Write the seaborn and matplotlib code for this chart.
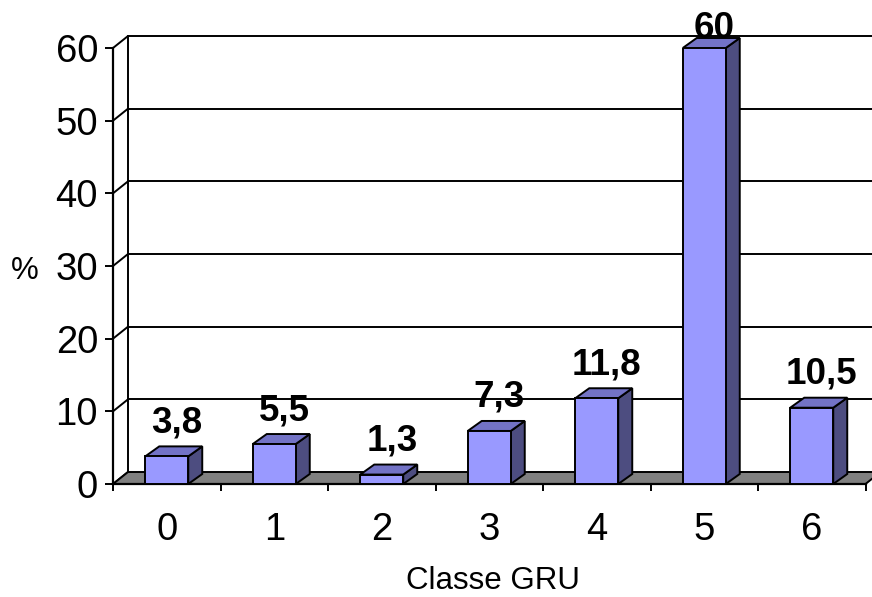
import numpy as np
import pandas as pd
import matplotlib
matplotlib.use("Agg")
import matplotlib.pyplot as plt
import seaborn as sns
from matplotlib.patches import Polygon
from matplotlib.lines import Line2D
from matplotlib.transforms import IdentityTransform

# Data
classes = ["0", "1", "2", "3", "4", "5", "6"]
shares = [3.8, 5.5, 1.3, 7.3, 11.8, 60, 10.5]
y_ticks = [0, 10, 20, 30, 40, 50, 60]

# Colours of the pseudo-3D columns
FACE = "#9999FF"
TOP = "#7373C6"
SIDE = "#4D4D80"
FLOOR = "#808080"

W, H, DPI = 872, 597, 100
WALL = np.array([15.0, 12.0])   # depth of floor / back wall, pixels
BAR = np.array([14.0, 10.0])    # depth of each column, pixels
LW = 1.4

sns.set_theme(style="white")
plt.rcParams["font.family"] = ["Liberation Sans", "DejaVu Sans"]
plt.rcParams["text.color"] = "black"
plt.rcParams["axes.labelcolor"] = "black"

fig = plt.figure(figsize=(W / DPI, H / DPI), dpi=DPI)
fig.patch.set_facecolor("white")
ax = fig.add_axes([113 / W, (H - 484) / H, 752.5 / W, 436 / H])
ax.set_facecolor("none")

df = pd.DataFrame({"classe": classes, "pct": shares})
sns.barplot(data=df, x="classe", y="pct", color=FACE, saturation=1,
            width=0.4, edgecolor="black", linewidth=LW, zorder=4, ax=ax)
bars = list(ax.patches)

ax.set_xlim(-0.5, len(classes) - 0.5)
ax.set_ylim(0, 60)
ax.autoscale(False)
x0, x1 = ax.get_xlim()


def px(x, y, depth=(0.0, 0.0)):
    """Data point -> display pixels, pushed back by a depth offset."""
    return ax.transData.transform((x, y)) + np.asarray(depth)


def seg(p, q, z=0.5):
    ln = Line2D([p[0], q[0]], [p[1], q[1]], color="black", lw=LW,
                transform=IdentityTransform(), clip_on=False, zorder=z)
    ax.add_line(ln)


def poly(pts, fc, z):
    ax.add_patch(Polygon(pts, closed=True, facecolor=fc, edgecolor="black",
                         lw=LW, transform=IdentityTransform(),
                         clip_on=False, zorder=z))


# Floor
poly([px(x0, 0), px(x1, 0), px(x1, 0, WALL), px(x0, 0, WALL)], FLOOR, 1)

# Back wall gridlines, side-wall diagonals and wall edge
for v in y_ticks:
    seg(px(x0, v), px(x0, v, WALL))
    if v > 0:
        seg(px(x0, v, WALL), px(x1 + 0.2, v, WALL))
seg(px(x0, 0, WALL), px(x0, y_ticks[-1], WALL))

# Top and side faces of each column
for bar in bars:
    xl = bar.get_x()
    xr = xl + bar.get_width()
    h = bar.get_height()
    poly([px(xr, 0), px(xr, 0, BAR), px(xr, h, BAR), px(xr, h)], SIDE, 3.9)
    poly([px(xl, h), px(xr, h), px(xr, h, BAR), px(xl, h, BAR)], TOP, 3.9)

# Value labels above each column (kept inside the figure)
for bar, v in zip(bars, shares):
    cx = bar.get_x() + bar.get_width() / 2
    ydisp = px(cx, v)[1]
    lift = min(24.0, (H - 38) - ydisp)
    ax.annotate(f"{v:g}".replace(".", ","), xy=(cx, v),
                xytext=((BAR[0] / 2 + 3) * 72 / DPI, lift * 72 / DPI),
                textcoords="offset points", ha="center", va="baseline",
                fontsize=26.5, fontweight="bold", color="black",
                zorder=6, annotation_clip=False)

# Axes frame
for side in ("top", "right"):
    ax.spines[side].set_visible(False)
for side in ("left", "bottom"):
    ax.spines[side].set_color("black")
    ax.spines[side].set_linewidth(1.6)
ax.spines["left"].set_zorder(5)

ax.set_yticks(y_ticks)
ax.tick_params(axis="y", left=True, direction="out", length=5.8, width=LW,
               color="black", labelcolor="black", labelsize=27.5, pad=5)

ax.set_xticks(np.arange(x0, x1 + 0.01, 1.0))
ax.set_xticklabels([])
ax.set_xticks(range(len(classes)), minor=True)
ax.set_xticklabels(classes, minor=True)
ax.tick_params(axis="x", which="major", bottom=True, direction="out",
               length=5, width=LW, color="black")
ax.tick_params(axis="x", which="minor", bottom=True, length=0,
               labelsize=27.5, labelcolor="black", pad=20.5)

ax.set_ylabel("%", rotation=0, fontsize=22.5, ha="center", va="baseline")
ax.yaxis.set_label_coords(-0.117, 0.470)
ax.set_xlabel("Classe GRU", fontsize=22.5, va="baseline")
ax.xaxis.set_label_coords(0.505, -0.241)

fig.savefig("out.png", dpi=DPI)
